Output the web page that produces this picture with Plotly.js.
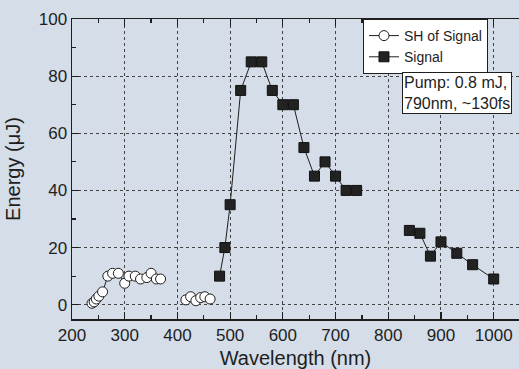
<!DOCTYPE html>
<html>
<head>
<meta charset="utf-8">
<script src="https://cdn.plot.ly/plotly-3.0.1.min.js"></script>
<style>
  html, body { margin: 0; padding: 0; background: #d4dde8; overflow: hidden; }
  #chart { width: 519px; height: 369px; }
</style>
</head>
<body>
<div id="chart"></div>
<script>
// Second-harmonic of the signal (open circles); null splits the two measured bands
const shWavelength = [238, 242, 246, 251, 258, 268, 277, 288, 300, 308, 320, 330, 342, 350, 360, 368,
                      null,
                      416, 425, 435, 444, 452, 462];
const shEnergy = [0.5, 1, 2, 3, 4.5, 10, 11, 11, 7.5, 10, 10, 9, 9.5, 11, 9, 9,
                  null,
                  1.7, 2.8, 1.4, 2.5, 2.8, 2];

// Signal energy (filled squares); null splits the visible and IR bands
const sigWavelength = [480, 490, 500, 520, 540, 560, 580, 600, 620, 640, 660, 680, 700, 720, 740,
                       null,
                       840, 860, 880, 900, 930, 960, 1000];
const sigEnergy = [10, 20, 35, 75, 85, 85, 75, 70, 70, 55, 45, 50, 45, 40, 40,
                   null,
                   26, 25, 17, 22, 18, 14, 9];

const xTicks = [200, 300, 400, 500, 600, 700, 800, 900, 1000];
const yTicks = [0, 20, 40, 60, 80, 100];

const FONT = 'Liberation Sans, Arial, sans-serif';
const INK = '#1e1e1e';
const BG = '#d4dde8';

const traces = [
  {
    name: 'SH of Signal',
    x: shWavelength, y: shEnergy,
    mode: 'lines+markers',
    connectgaps: false,
    line: { color: INK, width: 1 },
    marker: { symbol: 'circle', size: 10, color: '#ffffff', line: { color: INK, width: 1 } }
  },
  {
    name: 'Signal',
    x: sigWavelength, y: sigEnergy,
    mode: 'lines+markers',
    connectgaps: false,
    line: { color: INK, width: 1 },
    marker: { symbol: 'square', size: 10, color: '#222222', line: { color: '#111111', width: 1 } }
  }
];

const axisCommon = {
  showline: true, linecolor: INK, linewidth: 1.5,
  ticks: 'inside', ticklen: 7, tickwidth: 1.2, tickcolor: INK,
  showgrid: true, gridcolor: '#444', griddash: 'dot', gridwidth: 1,
  zeroline: false,
  tickfont: { family: FONT, size: 17, color: INK }
};

const layout = {
  width: 519, height: 369,
  paper_bgcolor: BG, plot_bgcolor: BG,
  margin: { l: 72, r: 0, t: 19, b: 50 },
  showlegend: true,
  xaxis: Object.assign({}, axisCommon, {
    range: [200, 1048],
    tickvals: xTicks,
    mirror: 'ticks',
    minor: { dtick: 50, tick0: 0, ticks: 'inside', ticklen: 4, tickcolor: INK, showgrid: false },
    title: { text: 'Wavelength (nm)', font: { family: FONT, size: 20, color: INK }, standoff: 8 }
  }),
  yaxis: Object.assign({}, axisCommon, {
    range: [-5, 100],
    tickvals: yTicks,
    mirror: false,
    minor: { dtick: 10, tick0: 0, ticks: 'inside', ticklen: 4, tickcolor: INK, showgrid: false },
    title: { text: 'Energy (μJ)', font: { family: FONT, size: 20, color: INK }, standoff: 12 }
  }),
  legend: {
    x: 0.651, y: 1.0, xanchor: 'left', yanchor: 'top',
    bgcolor: '#ffffff', bordercolor: INK, borderwidth: 1,
    font: { family: FONT, size: 14, color: INK },
    itemwidth: 30, tracegroupgap: 0
  },
  annotations: [{
    xref: 'paper', yref: 'paper',
    x: 0.984, y: 0.825, xanchor: 'right', yanchor: 'top',
    text: 'Pump: 0.8 mJ,<br>790nm, ~130fs',
    align: 'left', showarrow: false,
    bgcolor: '#ffffff', bordercolor: INK, borderwidth: 1, borderpad: 1,
    font: { family: FONT, size: 16, color: INK }
  }]
};

Plotly.newPlot('chart', traces, layout, { displayModeBar: false, staticPlot: true });
</script>
</body>
</html>
